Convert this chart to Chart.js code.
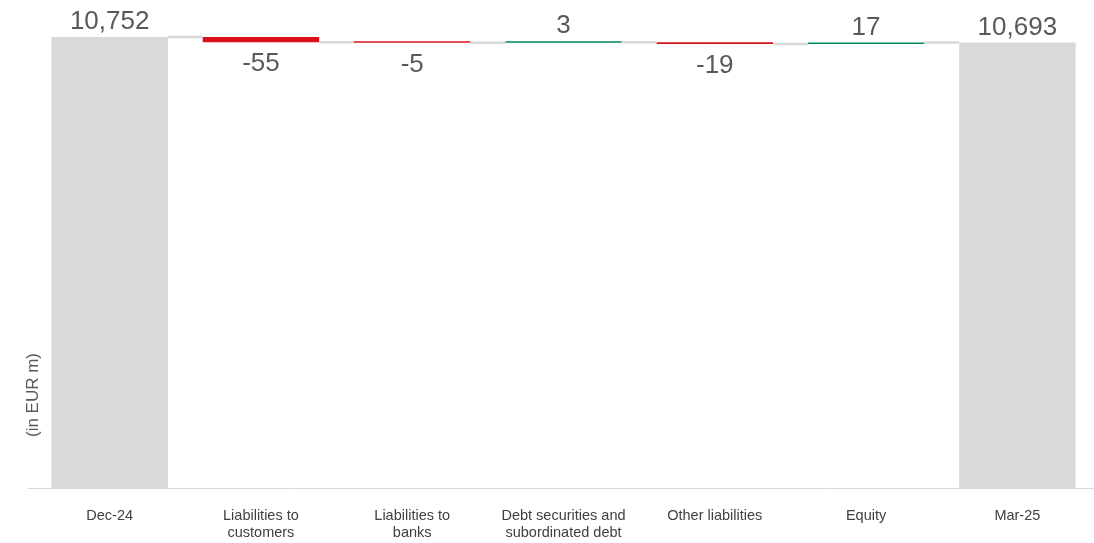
<!DOCTYPE html>
<html lang="en">
<head>
  <meta charset="UTF-8" />
  <script src="https://cdn.jsdelivr.net/npm/chart.js"></script>
  <title>Liabilities bridge Dec-24 to Mar-25</title>
  <style>
    html, body { margin: 0; padding: 0; background: #fff; }
    #wrap { width: 1094px; height: 543px; }
  </style>
</head>
<body>
  <div id="wrap"><canvas id="bridge"></canvas></div>

  <script>
    // categories and values (EUR m)
    const labels = ['Dec-24', ['Liabilities to', 'customers'], ['Liabilities to', 'banks'],
      ['Debt securities and', 'subordinated debt'], 'Other liabilities', 'Equity', 'Mar-25'];
    const values = [10752, -55, -5, 3, -19, 17, 10693];
    const isTotal = [true, false, false, false, false, false, true];

    const grey = '#d9d9d9';
    const red = '#d9111b';
    const green = '#00855f';
    const textGrey = '#595959';

    // build floating bars from the running total
    const barData = [];
    const levels = [];
    let running = 0;
    values.forEach(function (v, i) {
      if (isTotal[i]) {
        barData.push(v);
        running = v;
      } else {
        barData.push([running, running + v]);
        running += v;
      }
      levels.push(running);
    });
    const colors = values.map(function (v, i) {
      if (isTotal[i]) return grey;
      return v < 0 ? red : green;
    });

    const bridgeExtras = {
      id: 'bridgeExtras',
      afterDatasetsDraw: function (chart) {
        const ctx = chart.ctx;
        const y = chart.scales.y;
        const bars = chart.getDatasetMeta(0).data;
        ctx.save();

        // connectors between bars
        ctx.strokeStyle = grey;
        ctx.lineWidth = 2.5;
        for (let i = 0; i < bars.length - 1; i++) {
          const yy = y.getPixelForValue(levels[i]);
          ctx.beginPath();
          ctx.moveTo(bars[i].x + bars[i].width / 2, yy);
          ctx.lineTo(bars[i + 1].x - bars[i + 1].width / 2, yy);
          ctx.stroke();
        }

        // value labels
        ctx.fillStyle = textGrey;
        ctx.font = '26px "Liberation Sans", Arial, sans-serif';
        ctx.textAlign = 'center';
        ctx.textBaseline = 'middle';
        bars.forEach(function (b, i) {
          const v = values[i];
          const txt = v.toLocaleString('en-US');
          const top = Math.min(b.y, b.base);
          const bottom = Math.max(b.y, b.base);
          if (v < 0 && !isTotal[i]) {
            ctx.fillText(txt, b.x, bottom + 22);
          } else {
            ctx.fillText(txt, b.x, top - 15);
          }
        });

        // axis line
        const base = chart.chartArea.bottom + 0.5;
        ctx.strokeStyle = grey;
        ctx.lineWidth = 1;
        ctx.beginPath();
        ctx.moveTo(28, base);
        ctx.lineTo(chart.width, base);
        ctx.stroke();

        // unit caption
        ctx.translate(33, 395);
        ctx.rotate(-Math.PI / 2);
        ctx.font = '17px "Liberation Sans", Arial, sans-serif';
        ctx.fillStyle = textGrey;
        ctx.fillText('(in EUR m)', 0, 0);
        ctx.restore();
      }
    };

    new Chart(document.getElementById('bridge'), {
      type: 'bar',
      data: {
        labels: labels,
        datasets: [{
          data: barData,
          backgroundColor: colors,
          borderWidth: 0,
          minBarLength: 1.5,
          barPercentage: 0.77,
          categoryPercentage: 1
        }]
      },
      options: {
        responsive: true,
        maintainAspectRatio: false,
        animation: false,
        layout: { padding: { top: 14, left: 34, right: 1, bottom: 2 } },
        plugins: {
          legend: { display: false },
          tooltip: { enabled: false }
        },
        scales: {
          x: {
            grid: { display: false, drawTicks: false },
            border: { display: false },
            afterFit: function (scale) { scale.height = 53; },
            ticks: {
              color: '#404040',
              padding: 20,
              maxRotation: 0,
              autoSkip: false,
              font: { family: '"Liberation Sans", Arial, sans-serif', size: 14.5, lineHeight: 1.17 }
            }
          },
          y: {
            display: false,
            min: 5900,
            max: 11000
          }
        }
      },
      plugins: [bridgeExtras]
    });
  </script>
</body>
</html>
